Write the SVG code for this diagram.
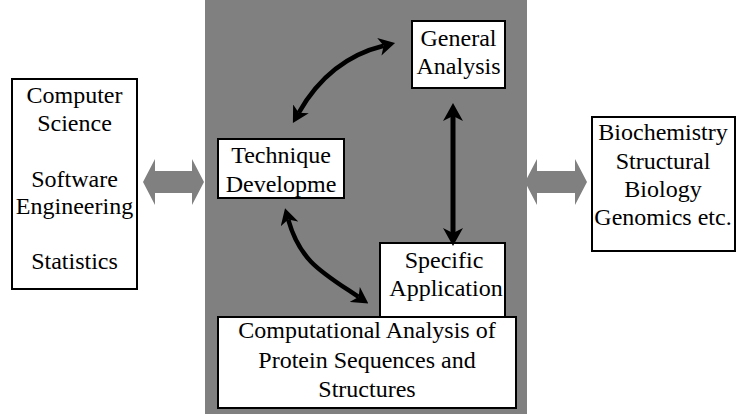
<svg xmlns="http://www.w3.org/2000/svg" width="736" height="419" viewBox="0 0 736 419">
  <style>
    .box { fill: #ffffff; stroke: #000000; stroke-width: 2; }
    .lbl { font-family: "Liberation Serif", "Times New Roman", serif; font-size: 24px; fill: #000000; text-anchor: middle; }
    .link { fill: none; stroke: #000000; stroke-width: 4.5; }
    .block { fill: #808080; }
  </style>
  <defs>
    <marker id="head" viewBox="0 0 18 20" markerWidth="3.6" markerHeight="4" refX="5" refY="10" orient="auto-start-reverse" markerUnits="strokeWidth">
      <path d="M0,0 L18,10 L0,20 L5,10 z" fill="#000000"/>
    </marker>
  </defs>

  <!-- shaded core field -->
  <rect x="205" y="0" width="322" height="414" fill="#808080"/>

  <!-- exchange arrows with neighbouring fields -->
  <g id="exchange">
    <polygon class="block" points="143,182 155,159 155,171 192,171 192,159 204,182 192,205 192,193 155,193 155,205"/>
    <polygon class="block" points="525,182 537,159 537,171 575,171 575,159 587,182 575,205 575,193 537,193 537,205"/>
  </g>

  <g id="computing">
    <rect class="box" x="12" y="79" width="125" height="210"/>
    <text class="lbl" x="74.5" y="103">Computer</text>
    <text class="lbl" x="74.5" y="131">Science</text>
    <text class="lbl" x="74.5" y="187">Software</text>
    <text class="lbl" x="74.5" y="214">Engineering</text>
    <text class="lbl" x="74.5" y="269">Statistics</text>
  </g>

  <g id="technique">
    <rect class="box" x="218" y="139" width="126" height="59"/>
    <text class="lbl" x="281" y="163">Technique</text>
    <text class="lbl" x="281" y="192">Developme</text>
  </g>

  <g id="general">
    <rect class="box" x="412" y="21" width="93" height="67"/>
    <text class="lbl" x="458.5" y="46">General</text>
    <text class="lbl" x="458.5" y="74">Analysis</text>
  </g>

  <g id="biology">
    <rect class="box" x="592" y="117" width="143" height="134"/>
    <text class="lbl" x="663" y="140">Biochemistry</text>
    <text class="lbl" x="663" y="169">Structural</text>
    <text class="lbl" x="663" y="197">Biology</text>
    <text class="lbl" x="663" y="225">Genomics etc.</text>
  </g>

  <g id="specific">
    <rect class="box" x="380" y="243" width="125" height="80"/>
    <text class="lbl" x="444" y="268">Specific</text>
    <text class="lbl" x="446" y="296">Application</text>
  </g>

  <g id="core">
    <rect class="box" x="218" y="317" width="298" height="91"/>
    <text class="lbl" x="367" y="338">Computational Analysis of</text>
    <text class="lbl" x="367" y="368">Protein Sequences and</text>
    <text class="lbl" x="367" y="397">Structures</text>
  </g>

  <!-- connectors -->
  <g id="connectors">
    <path class="link" d="M298.7,112.8 C318,79 346,55 383.7,45.8" marker-start="url(#head)" marker-end="url(#head)"/>
    <path class="link" d="M288.2,219.5 C300,261.5 322,272.5 358.6,296.9" marker-start="url(#head)" marker-end="url(#head)"/>
    <path class="link" style="stroke-width:5" d="M453,116 L453,233" marker-start="url(#head)" marker-end="url(#head)"/>
  </g>
</svg>
